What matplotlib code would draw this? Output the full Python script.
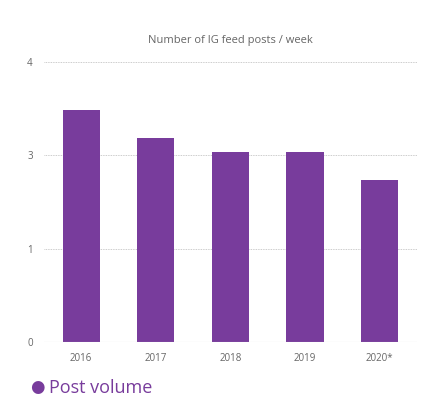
import matplotlib.pyplot as plt
import numpy as np

years = ["2016", "2017", "2018", "2019", "2020*"]
posts = [3.31, 2.91, 2.71, 2.71, 2.31]
y_ticks = [0, 4 / 3, 8 / 3, 4]
y_labels = ["0", "1", "3", "4"]

purple = "#783c9c"
grey = "#666666"
plt.rcParams["font.family"] = ["Open Sans", "DejaVu Sans"]

fig = plt.figure(figsize=(4.3, 4.13), dpi=100)
ax = fig.add_axes([0.102, 0.172, 0.868, 0.678])

x = np.arange(len(years))
ax.bar(x, posts, width=0.5, color=purple, zorder=2)

ax.set_xlim(-0.5, len(years) - 0.5)
ax.set_ylim(0, 4)
ax.set_yticks(y_ticks)
ax.set_yticklabels(y_labels)
ax.set_xticks(x)
ax.set_xticklabels(years)
ax.tick_params(colors=grey, labelsize=7, length=0, pad=8)
ax.grid(axis="y", color="#bbbbbb", linestyle=(0, (1, 1)), linewidth=0.6, zorder=0)
for s in ax.spines.values():
    s.set_visible(False)
ax.axhline(0, color="#cccccc", linewidth=0.8, zorder=3)

ax.set_title("Number of IG feed posts / week", fontsize=8, color=grey, pad=14)

fig.text(0.086, 0.06, "\u25cf", color=purple, fontsize=12, va="center", ha="center")
fig.text(0.115, 0.06, "Post volume", color=purple, fontsize=13, va="center")

fig.savefig("out.png", dpi=100)
